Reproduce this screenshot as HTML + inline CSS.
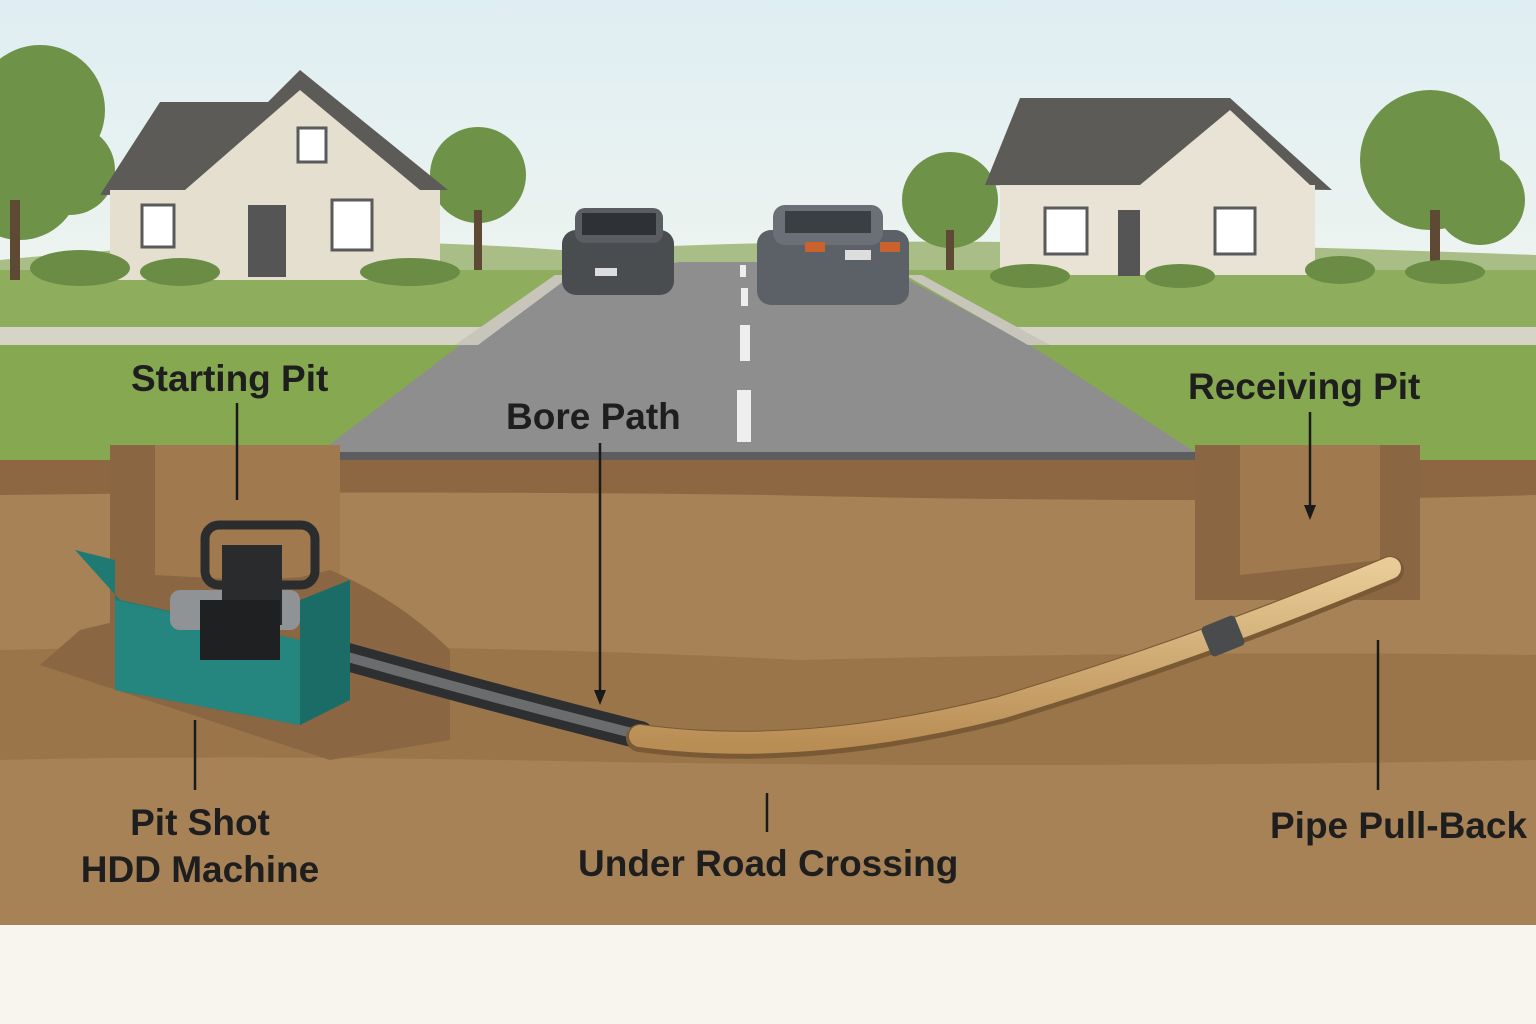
<!DOCTYPE html>
<html><head><meta charset="utf-8"><style>html,body{margin:0;padding:0;background:#f8f4ee}svg{display:block}text{font-family:"Liberation Sans",sans-serif;fill:#1e1e1e;font-weight:bold}</style></head><body>
<svg width="1536" height="1024" viewBox="0 0 1536 1024" xmlns="http://www.w3.org/2000/svg">
<defs>
<linearGradient id="sky" x1="0" y1="0" x2="0" y2="1"><stop offset="0" stop-color="#dfeef3"/><stop offset="1" stop-color="#eef4ef"/></linearGradient>
<linearGradient id="pipe" x1="0" y1="0" x2="0" y2="1"><stop offset="0" stop-color="#e8cb96"/><stop offset="1" stop-color="#b98e55"/></linearGradient>
</defs>
<rect width="1536" height="1024" fill="#f8f4ee"/>
<rect width="1536" height="290" fill="url(#sky)"/>
<path d="M0 260 Q300 230 560 250 L700 245 Q1000 235 1536 255 L1536 300 L0 300Z" fill="#a9bd86"/>
<rect x="0" y="270" width="1536" height="60" fill="#8eae5d"/>
<rect x="0" y="327" width="1536" height="18" fill="#d6d3c7"/>
<rect x="0" y="345" width="1536" height="115" fill="#86a851"/>
<!-- road -->
<polygon points="680,262 760,262 905,278 1030,345 1195,452 320,452 460,345 562,278" fill="#8e8e8e"/>
<polygon points="555,275 455,345 478,345 572,275" fill="#c8c5bb"/>
<polygon points="905,275 1028,345 1050,345 922,275" fill="#c8c5bb"/>
<rect x="740" y="265" width="6" height="12" fill="#eee"/><rect x="741" y="288" width="7" height="18" fill="#eee"/><rect x="740" y="325" width="10" height="36" fill="#eee"/><rect x="737" y="390" width="14" height="52" fill="#eee"/>
<rect x="335" y="452" width="860" height="28" fill="#5c5d5e"/>
<g fill="#6f9249"><circle cx="40" cy="110" r="65"/><circle cx="20" cy="180" r="60"/><circle cx="70" cy="170" r="45"/><circle cx="478" cy="175" r="48"/><circle cx="950" cy="200" r="48"/><circle cx="1430" cy="160" r="70"/><circle cx="1480" cy="200" r="45"/></g>
<g fill="#5e4a34"><rect x="10" y="200" width="10" height="80"/><rect x="474" y="210" width="8" height="60"/><rect x="946" y="230" width="8" height="40"/><rect x="1430" y="210" width="10" height="60"/></g>
<!-- left house -->
<polygon points="100,195 160,102 268,102 300,70 448,190" fill="#5c5b57"/>
<rect x="110" y="190" width="330" height="90" fill="#e4dfcf"/>
<polygon points="185,190 300,90 420,190" fill="#e4dfcf"/>
<rect x="298" y="128" width="28" height="34" fill="#fff" stroke="#5a5a5a" stroke-width="3"/>
<rect x="142" y="205" width="32" height="42" fill="#fff" stroke="#5a5a5a" stroke-width="3"/>
<rect x="332" y="200" width="40" height="50" fill="#fff" stroke="#5a5a5a" stroke-width="3"/>
<rect x="248" y="205" width="38" height="72" fill="#555"/>
<!-- right house -->
<polygon points="985,185 1020,98 1230,98 1332,190" fill="#5c5b57"/>
<rect x="1000" y="185" width="315" height="90" fill="#e8e3d4"/>
<polygon points="1140,185 1230,110 1310,185" fill="#e8e3d4"/>
<rect x="1045" y="208" width="42" height="46" fill="#fff" stroke="#5a5a5a" stroke-width="3"/>
<rect x="1215" y="208" width="40" height="46" fill="#fff" stroke="#5a5a5a" stroke-width="3"/>
<rect x="1118" y="210" width="22" height="66" fill="#555"/>
<g fill="#6b8c44"><ellipse cx="80" cy="268" rx="50" ry="18"/><ellipse cx="180" cy="272" rx="40" ry="14"/><ellipse cx="410" cy="272" rx="50" ry="14"/><ellipse cx="1030" cy="276" rx="40" ry="12"/><ellipse cx="1180" cy="276" rx="35" ry="12"/><ellipse cx="1340" cy="270" rx="35" ry="14"/><ellipse cx="1445" cy="272" rx="40" ry="12"/></g>
<!-- cars -->
<rect x="562" y="230" width="112" height="65" rx="14" fill="#4a4d50"/><rect x="575" y="208" width="88" height="35" rx="10" fill="#5a5e62"/><rect x="582" y="213" width="74" height="22" fill="#2f3234"/><rect x="595" y="268" width="22" height="8" fill="#ddd"/>
<rect x="757" y="230" width="152" height="75" rx="14" fill="#5b6166"/><rect x="773" y="205" width="110" height="40" rx="12" fill="#6a7075"/><rect x="785" y="211" width="86" height="22" fill="#3a3f43"/><rect x="805" y="242" width="20" height="10" fill="#c9622d"/><rect x="880" y="242" width="20" height="10" fill="#c9622d"/><rect x="845" y="250" width="26" height="10" fill="#ddd"/>
<!-- soil -->
<rect x="0" y="460" width="1536" height="465" fill="#a78257"/>
<path d="M0 460 L1536 460 L1536 495 Q1200 505 768 495 Q400 490 0 495Z" fill="#8c6741"/>
<path d="M0 650 Q400 640 800 660 Q1200 650 1536 655 L1536 760 Q1000 770 500 760 Q200 755 0 760Z" fill="#9a7549"/>
<rect x="110" y="445" width="230" height="200" fill="#8a6642"/>
<polygon points="155,445 340,445 340,575 250,580 155,575" fill="#a07a4e"/>
<path d="M40 665 L80 630 L330 570 Q400 600 450 650 L450 740 L330 760 Z" fill="#8a6642"/>
<rect x="1195" y="445" width="225" height="155" fill="#8a6642"/>
<polygon points="1240,445 1380,445 1380,560 1240,575" fill="#a07a4e"/>
<!-- pipe -->
<path d="M330 652 Q500 700 640 735" stroke="#2e2f31" stroke-width="28" fill="none" stroke-linecap="round"/>
<path d="M330 652 Q500 700 640 735" stroke="#6a6c6e" stroke-width="10" fill="none"/>
<path d="M640 738 Q800 760 1000 710 Q1200 650 1390 570" stroke="#7a5a35" stroke-width="28" fill="none" stroke-linecap="round"/>
<path d="M640 736 Q800 758 1000 708 Q1200 648 1390 568" stroke="url(#pipe)" stroke-width="22" fill="none" stroke-linecap="round"/>
<rect x="1205" y="620" width="36" height="32" rx="4" fill="#4a4b4c" transform="rotate(-22 1223 636)"/>
<!-- machine -->
<rect x="205" y="525" width="110" height="60" rx="14" fill="none" stroke="#2b2c2e" stroke-width="9"/>
<polygon points="75,550 115,560 115,690 300,725 300,640 120,600" fill="#1f7a74"/>
<polygon points="115,600 300,640 350,605 350,695 300,725 115,690" fill="#25867f"/>
<polygon points="300,600 350,580 350,700 300,725" fill="#1b6c66"/>
<rect x="170" y="590" width="130" height="40" rx="10" fill="#8f9396"/>
<rect x="222" y="545" width="60" height="80" fill="#2a2b2d"/>
<rect x="200" y="600" width="80" height="60" fill="#1f2021"/>
<g stroke="#1a1a1a" stroke-width="2.5" fill="none">
<line x1="237" y1="403" x2="237" y2="500"/>
<line x1="600" y1="443" x2="600" y2="695"/>
<line x1="1310" y1="412" x2="1310" y2="510"/>
<line x1="195" y1="720" x2="195" y2="790"/>
<line x1="767" y1="793" x2="767" y2="832"/>
<line x1="1378" y1="640" x2="1378" y2="790"/>
</g>
<polygon points="594,690 606,690 600,705" fill="#1a1a1a"/>
<polygon points="1304,505 1316,505 1310,520" fill="#1a1a1a"/>
<g font-size="37">
<text x="131" y="391">Starting Pit</text>
<text x="506" y="429">Bore Path</text>
<text x="1188" y="399">Receiving Pit</text>
<text x="200" y="835" text-anchor="middle">Pit Shot</text>
<text x="200" y="882" text-anchor="middle">HDD Machine</text>
<text x="578" y="876">Under Road Crossing</text>
<text x="1270" y="838">Pipe Pull-Back</text>
</g>
</svg>
</body></html>
